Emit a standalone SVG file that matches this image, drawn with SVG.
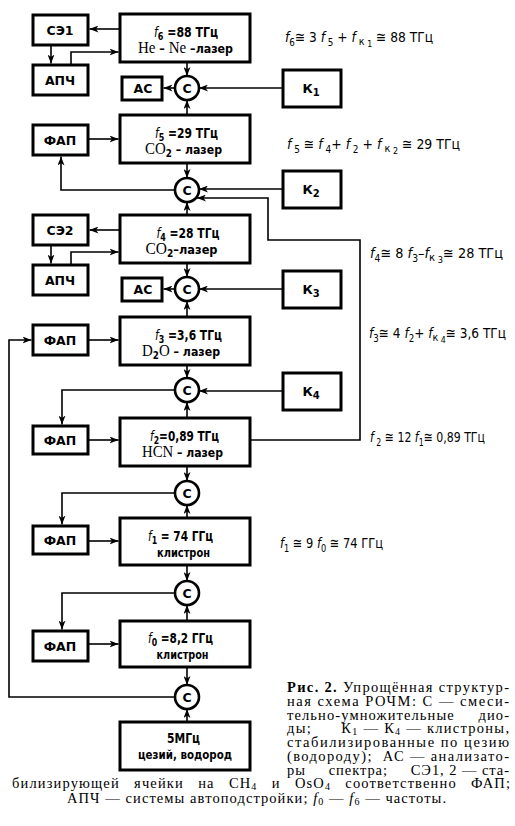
<svg xmlns="http://www.w3.org/2000/svg" width="515" height="826" viewBox="0 0 515 826">
<defs>
<marker id="ah" markerWidth="9" markerHeight="7" refX="9" refY="3.5" orient="auto" markerUnits="userSpaceOnUse">
<path d="M0,0 L9,3.5 L0,7 L2.5,3.5 z" fill="#000"/>
</marker>
</defs>
<style>
.bx{fill:#fff;stroke:#000;stroke-width:3}
.mx{fill:#fff;stroke:#000;stroke-width:2.6}
.ln{fill:none;stroke:#000;stroke-width:1.6}
.ar{marker-end:url(#ah)}
.lb{font-family:"DejaVu Sans","Liberation Sans",sans-serif;font-weight:bold;font-size:12.5px;text-anchor:middle;fill:#000}
.big{font-size:13.5px}
.sf{font-family:"Liberation Serif",serif;font-weight:normal;font-size:17px}
.it{font-style:italic;font-weight:normal}
.eq{font-family:"DejaVu Sans","Liberation Sans",sans-serif;font-size:14px;fill:#000}
.cap{font-family:"Liberation Serif",serif;font-size:14.5px;fill:#000}
</style>

<g id="connectors">
<path class="ln ar" d="M120,29 H89.5"/>
<path class="ln ar" d="M51,45 V63.5"/>
<path class="ln ar" d="M71,65 V52 H118.5"/>
<path class="ln ar" d="M187,62 V76"/>
<path class="ln ar" d="M187,115 V100"/>
<path class="ln ar" d="M283,88 H199"/>
<path class="ln ar" d="M175,88 H163.5"/>
<path class="ln ar" d="M88,139 H118.5"/>
<path class="ln ar" d="M187,163 V178"/>
<path class="ln ar" d="M175,190 H61 V156.5"/>
<path class="ln ar" d="M283,189 H199"/>
<path class="ln ar" d="M250,440 H360 V240 H268 V198 H197"/>
<path class="ln ar" d="M187,215 V202"/>
<path class="ln ar" d="M120,230 H89.5"/>
<path class="ln ar" d="M51,245 V263.5"/>
<path class="ln ar" d="M71,265 V252 H118.5"/>
<path class="ln ar" d="M187,263 V277"/>
<path class="ln ar" d="M187,317 V301"/>
<path class="ln ar" d="M283,289 H199"/>
<path class="ln ar" d="M175,289 H163.5"/>
<path class="ln ar" d="M88,340 H118.5"/>
<path class="ln ar" d="M187,365 V378"/>
<path class="ln ar" d="M283,391 H199"/>
<path class="ln ar" d="M175,390 H62 V424.5"/>
<path class="ln ar" d="M187,418 V402"/>
<path class="ln ar" d="M88,440 H118.5"/>
<path class="ln ar" d="M187,466 V481"/>
<path class="ln ar" d="M175,493 H62 V524.5"/>
<path class="ln ar" d="M187,518 V505"/>
<path class="ln ar" d="M88,541 H118.5"/>
<path class="ln ar" d="M187,565 V581"/>
<path class="ln ar" d="M175,593 H62 V629.5"/>
<path class="ln ar" d="M187,621 V605"/>
<path class="ln ar" d="M88,644 H118.5"/>
<path class="ln ar" d="M187,667 V685"/>
<path class="ln ar" d="M187,722 V709"/>
<path class="ln ar" d="M175,697 H9 V340 H31.5"/>
</g>

<g id="f6">
<rect class="bx" x="120" y="14" width="130" height="48"/>
<text class="lb big" x="186" y="37" textLength="64" lengthAdjust="spacingAndGlyphs"><tspan class="it">f</tspan><tspan font-size="10" dy="3">6</tspan><tspan dy="-3"> =88 ТГц</tspan></text>
<text class="lb" x="185.5" y="53" textLength="95" lengthAdjust="spacingAndGlyphs"><tspan class="sf">He</tspan> – <tspan class="sf">Ne</tspan> –лазер</text>
</g>
<g id="se1">
<rect class="bx" x="33" y="15" width="55" height="30"/>
<text class="lb" x="60" y="35">СЭ1</text>
</g>
<g id="apch1">
<rect class="bx" x="33" y="65" width="55" height="30"/>
<text class="lb" x="60" y="85">АПЧ</text>
</g>
<g id="m1">
<circle class="mx" cx="187" cy="88" r="12"/>
<text class="lb" x="187" y="93" font-size="12">С</text>
</g>
<g id="ac1">
<rect class="bx" x="122" y="77" width="40" height="23"/>
<text class="lb" x="143" y="93">АС</text>
</g>
<g id="k1">
<rect class="bx" x="283" y="70" width="58" height="37"/>
<text class="lb" x="311" y="93" font-weight="normal">К<tspan font-size="10" dy="3">1</tspan></text>
</g>

<g id="f5">
<rect class="bx" x="120" y="115" width="130" height="48"/>
<text class="lb big" x="186.5" y="138" textLength="63" lengthAdjust="spacingAndGlyphs"><tspan class="it">f</tspan><tspan font-size="10" dy="3">5</tspan><tspan dy="-3"> =29 ТГц</tspan></text>
<text class="lb" x="183.5" y="154" textLength="77" lengthAdjust="spacingAndGlyphs"><tspan class="sf">CO</tspan><tspan font-size="10" dy="3">2</tspan><tspan dy="-3"> – лазер</tspan></text>
</g>
<g id="fap5">
<rect class="bx" x="33" y="125" width="55" height="30"/>
<text class="lb" x="60" y="145">ФАП</text>
</g>
<g id="m2">
<circle class="mx" cx="187" cy="190" r="12"/>
<text class="lb" x="187" y="195" font-size="12">С</text>
</g>
<g id="k2">
<rect class="bx" x="283" y="171" width="58" height="37"/>
<text class="lb" x="311" y="194" font-weight="normal">К<tspan font-size="10" dy="3">2</tspan></text>
</g>

<g id="f4">
<rect class="bx" x="120" y="215" width="130" height="48"/>
<text class="lb big" x="188" y="238" textLength="63" lengthAdjust="spacingAndGlyphs"><tspan class="it">f</tspan><tspan font-size="10" dy="3">4</tspan><tspan dy="-3"> =28 ТГц</tspan></text>
<text class="lb" x="181.5" y="254" textLength="72" lengthAdjust="spacingAndGlyphs"><tspan class="sf">CO</tspan><tspan font-size="10" dy="3">2</tspan><tspan dy="-3">–лазер</tspan></text>
</g>
<g id="se2">
<rect class="bx" x="33" y="215" width="55" height="30"/>
<text class="lb" x="60" y="235">СЭ2</text>
</g>
<g id="apch2">
<rect class="bx" x="33" y="265" width="55" height="30"/>
<text class="lb" x="60" y="285">АПЧ</text>
</g>
<g id="m3">
<circle class="mx" cx="187" cy="289" r="12"/>
<text class="lb" x="187" y="294" font-size="12">С</text>
</g>
<g id="ac2">
<rect class="bx" x="122" y="278" width="40" height="23"/>
<text class="lb" x="143" y="294">АС</text>
</g>
<g id="k3">
<rect class="bx" x="283" y="271" width="58" height="37"/>
<text class="lb" x="311" y="294" font-weight="normal">К<tspan font-size="10" dy="3">3</tspan></text>
</g>

<g id="f3">
<rect class="bx" x="120" y="317" width="130" height="48"/>
<text class="lb big" x="188.5" y="340" textLength="67" lengthAdjust="spacingAndGlyphs"><tspan class="it">f</tspan><tspan font-size="10" dy="3">3</tspan><tspan dy="-3"> =3,6 ТГц</tspan></text>
<text class="lb" x="181" y="356" textLength="78" lengthAdjust="spacingAndGlyphs"><tspan class="sf">D</tspan><tspan font-size="10" dy="3">2</tspan><tspan class="sf" dy="-3">O</tspan> – лазер</text>
</g>
<g id="fap3">
<rect class="bx" x="33" y="325" width="55" height="30"/>
<text class="lb" x="60" y="345">ФАП</text>
</g>
<g id="m4">
<circle class="mx" cx="187" cy="390" r="12"/>
<text class="lb" x="187" y="395" font-size="12">С</text>
</g>
<g id="k4">
<rect class="bx" x="283" y="373" width="58" height="37"/>
<text class="lb" x="311" y="396" font-weight="normal">К<tspan font-size="10" dy="3">4</tspan></text>
</g>

<g id="f2">
<rect class="bx" x="120" y="418" width="130" height="48"/>
<text class="lb big" x="184.5" y="441" textLength="69" lengthAdjust="spacingAndGlyphs"><tspan class="it">f</tspan><tspan font-size="10" dy="3">2</tspan><tspan dy="-3">=0,89 ТГц</tspan></text>
<text class="lb" x="182.5" y="457" textLength="81" lengthAdjust="spacingAndGlyphs"><tspan class="sf">HCN</tspan> – лазер</text>
</g>
<g id="fap2">
<rect class="bx" x="33" y="426" width="55" height="28"/>
<text class="lb" x="60" y="445">ФАП</text>
</g>
<g id="m5">
<circle class="mx" cx="187" cy="493" r="12"/>
<text class="lb" x="187" y="498" font-size="12">С</text>
</g>

<g id="f1">
<rect class="bx" x="120" y="518" width="130" height="47"/>
<text class="lb big" x="180.5" y="541" textLength="65" lengthAdjust="spacingAndGlyphs"><tspan class="it">f</tspan><tspan font-size="10" dy="3">1</tspan><tspan dy="-3"> = 74 ГГц</tspan></text>
<text class="lb" x="183.5" y="557" textLength="53" lengthAdjust="spacingAndGlyphs">клистрон</text>
</g>
<g id="fap1">
<rect class="bx" x="33" y="526" width="55" height="28"/>
<text class="lb" x="60" y="545">ФАП</text>
</g>
<g id="m6">
<circle class="mx" cx="187" cy="593" r="12"/>
<text class="lb" x="187" y="598" font-size="12">С</text>
</g>

<g id="f0">
<rect class="bx" x="120" y="621" width="130" height="46"/>
<text class="lb big" x="180.5" y="643" textLength="65" lengthAdjust="spacingAndGlyphs"><tspan class="it">f</tspan><tspan font-size="10" dy="3">0</tspan><tspan dy="-3"> =8,2 ГГц</tspan></text>
<text class="lb" x="182.5" y="659" textLength="52" lengthAdjust="spacingAndGlyphs">клистрон</text>
</g>
<g id="fap0">
<rect class="bx" x="33" y="631" width="55" height="30"/>
<text class="lb" x="60" y="651">ФАП</text>
</g>
<g id="m7">
<circle class="mx" cx="187" cy="697" r="12"/>
<text class="lb" x="187" y="702" font-size="12">С</text>
</g>

<g id="ref">
<rect class="bx" x="120" y="722" width="130" height="48"/>
<text class="lb big" x="183.5" y="743" textLength="33" lengthAdjust="spacingAndGlyphs">5МГц</text>
<text class="lb" x="185" y="759" textLength="94" lengthAdjust="spacingAndGlyphs">цезий,  водород</text>
</g>

<g id="equations">
<text class="eq" x="285" y="42" textLength="148" lengthAdjust="spacingAndGlyphs"><tspan class="it">f</tspan><tspan font-size="10" dy="4">6</tspan><tspan dy="-4">≅ 3 </tspan><tspan class="it">f</tspan><tspan font-size="10" dy="4"> 5</tspan><tspan dy="-4"> + </tspan><tspan class="it">f</tspan><tspan font-size="11" dy="3"> к</tspan><tspan font-size="9" dy="2"> 1</tspan><tspan dy="-5"> ≅ 88 ТГц</tspan></text>
<text class="eq" x="287" y="149" textLength="173" lengthAdjust="spacingAndGlyphs"><tspan class="it">f</tspan><tspan font-size="10" dy="4"> 5</tspan><tspan dy="-4"> ≅ </tspan><tspan class="it">f</tspan><tspan font-size="10" dy="4"> 4</tspan><tspan dy="-4">+ </tspan><tspan class="it">f</tspan><tspan font-size="10" dy="4"> 2</tspan><tspan dy="-4"> + </tspan><tspan class="it">f</tspan><tspan font-size="11" dy="3"> к</tspan><tspan font-size="9" dy="2"> 2</tspan><tspan dy="-5"> ≅ 29 ТГц</tspan></text>
<text class="eq" x="370" y="258" textLength="133" lengthAdjust="spacingAndGlyphs"><tspan class="it">f</tspan><tspan font-size="10" dy="4">4</tspan><tspan dy="-4">≅ 8 </tspan><tspan class="it">f</tspan><tspan font-size="10" dy="4">3</tspan><tspan dy="-4">–</tspan><tspan class="it">f</tspan><tspan font-size="11" dy="3">к</tspan><tspan font-size="9" dy="2"> 3</tspan><tspan dy="-5">≅ 28 ТГц</tspan></text>
<text class="eq" x="369" y="338" textLength="137" lengthAdjust="spacingAndGlyphs"><tspan class="it">f</tspan><tspan font-size="10" dy="4">3</tspan><tspan dy="-4">≅ 4 </tspan><tspan class="it">f</tspan><tspan font-size="10" dy="4">2</tspan><tspan dy="-4">+ </tspan><tspan class="it">f</tspan><tspan font-size="11" dy="3">к</tspan><tspan font-size="9" dy="2"> 4</tspan><tspan dy="-5">≅ 3,6 ТГц</tspan></text>
<text class="eq" x="370" y="442" textLength="115" lengthAdjust="spacingAndGlyphs"><tspan class="it">f</tspan><tspan font-size="10" dy="4"> 2</tspan><tspan dy="-4"> ≅ 12 </tspan><tspan class="it">f</tspan><tspan font-size="10" dy="4">1</tspan><tspan dy="-4">≅ 0,89 ТГц</tspan></text>
<text class="eq" x="280" y="548" textLength="103" lengthAdjust="spacingAndGlyphs"><tspan class="it">f</tspan><tspan font-size="10" dy="4">1</tspan><tspan dy="-4"> ≅ 9 </tspan><tspan class="it">f</tspan><tspan font-size="10" dy="4">0</tspan><tspan dy="-4"> ≅ 74 ГГц</tspan></text>
</g>

<g id="caption">
<text class="cap" xml:space="preserve" x="287" y="692" textLength="222" lengthAdjust="spacing"><tspan font-weight="bold">Рис. 2.</tspan> Упрощённая структур-</text>
<text class="cap" xml:space="preserve" x="287" y="706" textLength="222" lengthAdjust="spacing">ная схема РОЧМ: С — смеси-</text>
<text class="cap" xml:space="preserve" x="287" y="720" textLength="222" lengthAdjust="spacing">тельно-умножительные     дио-</text>
<text class="cap" xml:space="preserve" x="287" y="733" textLength="222" lengthAdjust="spacing">ды;      К<tspan font-size="10" dy="2">1</tspan><tspan dy="-2"> — К</tspan><tspan font-size="10" dy="2">4</tspan><tspan dy="-2"> — клистроны,</tspan></text>
<text class="cap" xml:space="preserve" x="287" y="747" textLength="222" lengthAdjust="spacing">стабилизированные по цезию</text>
<text class="cap" xml:space="preserve" x="287" y="761" textLength="222" lengthAdjust="spacing">(водороду);  АС — анализато-</text>
<text class="cap" xml:space="preserve" x="287" y="775" textLength="222" lengthAdjust="spacing">ры     спектра;     СЭ1, 2 — ста-</text>
<text class="cap" xml:space="preserve" x="12" y="788" textLength="498" lengthAdjust="spacing">билизирующей   ячейки   на   CH<tspan font-size="10" dy="2">4</tspan><tspan dy="-2">   и   OsO</tspan><tspan font-size="10" dy="2">4</tspan><tspan dy="-2">   соответственно   ФАП;</tspan></text>
<text class="cap" xml:space="preserve" x="67" y="803" textLength="379" lengthAdjust="spacing">АПЧ — системы автоподстройки; <tspan font-style="italic">f</tspan><tspan font-size="10" dy="2">0</tspan><tspan dy="-2"> — </tspan><tspan font-style="italic">f</tspan><tspan font-size="10" dy="2">6</tspan><tspan dy="-2"> — частоты.</tspan></text>
</g>
</svg>
